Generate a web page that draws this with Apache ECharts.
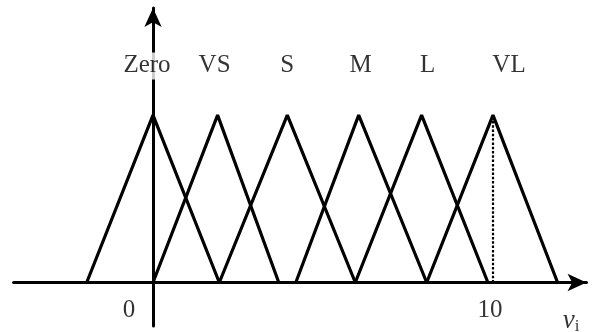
<!DOCTYPE html>
<html>
<head>
<meta charset="utf-8">
<script src="https://cdn.jsdelivr.net/npm/echarts@6/dist/echarts.min.js"></script>
<style>
  html, body { margin: 0; padding: 0; background: #fff; }
  #chart { width: 593px; height: 332px; }
</style>
</head>
<body>
<div id="chart"></div>
<script>
// Fuzzy sets on v_i: each term is a triangle (left foot, peak, right foot)
const termNames = ['Zero', 'VS', 'S', 'M', 'L', 'VL'];
const leftFeet  = [-1.95, 0, 1.95, 4.2, 5.95, 8.05];
const peaks     = [0, 1.9, 3.95, 6.05, 7.9, 10];
const rightFeet = [1.95, 3.7, 5.95, 8.05, 9.85, 11.9];
const peakGrade = 1;

// Labelled values on the horizontal axis
const tickValues = [0, 10];
const tickTexts  = ['0', '10'];
const axisName   = 'v';
const axisSub    = 'i';

const FONT = '"Liberation Serif", "DejaVu Serif", serif';
const INK = '#000';

const chart = echarts.init(document.getElementById('chart'), null, { renderer: 'canvas' });

const triangleSeries = termNames.map((name, i) => ({
  name: name,
  type: 'line',
  data: [[leftFeet[i], 0], [peaks[i], peakGrade], [rightFeet[i], 0]],
  symbol: 'none',
  silent: true,
  lineStyle: { color: INK, width: 3.2 },
  z: 3
}));

// dotted drop line under the last peak
const dropLine = {
  type: 'line',
  data: [[peaks[peaks.length - 1], 0], [peaks[peaks.length - 1], peakGrade]],
  symbol: 'none',
  silent: true,
  lineStyle: { color: INK, width: 2.2, type: [2.5, 1.8] },
  z: 2
};

// label offsets (px) for the term names above the peaks
const termOffsets = [[-6, 1], [-3, 1], [0, 1], [2, 1], [6, 1], [16, 1]];
const termLabels = {
  type: 'scatter',
  symbolSize: 0,
  silent: true,
  z: 5,
  data: termNames.map((name, i) => ({
    value: [peaks[i], 1.3],
    label: {
      show: true,
      formatter: name,
      position: 'inside',
      offset: termOffsets[i],
      fontFamily: FONT,
      fontSize: 25,
      color: INK,
      backgroundColor: i === 0 ? '#fff' : 'transparent',
      padding: [1, 3]
    }
  }))
};

const tickOffsets = [[-24, 0], [-3, 0]];
const tickLabels = {
  type: 'scatter',
  symbolSize: 0,
  silent: true,
  z: 5,
  data: tickValues.map((v, i) => ({
    value: [v, -0.17],
    label: {
      show: true,
      formatter: tickTexts[i],
      position: 'inside',
      offset: tickOffsets[i],
      fontFamily: FONT,
      fontSize: 25,
      color: INK
    }
  }))
};

const nameLabel = {
  type: 'scatter',
  symbolSize: 0,
  silent: true,
  z: 5,
  data: [{
    value: [12.3, -0.23],
    label: {
      show: true,
      position: 'inside',
      formatter: '{v|' + axisName + '}{s|' + axisSub + '}',
      rich: {
        v: { fontFamily: FONT, fontStyle: 'italic', fontSize: 27, color: INK },
        s: { fontFamily: FONT, fontSize: 17, color: INK, padding: [12, 0, 0, 0] }
      }
    }
  }]
};

const axisLineStyle = { color: INK, width: 3 };

chart.setOption({
  animation: false,
  backgroundColor: '#fff',
  grid: { left: 13.6, right: 6.5, top: 8, bottom: 6, containLabel: false },
  xAxis: {
    type: 'value',
    min: -4.1,
    max: 12.75,
    axisLine: {
      show: true, onZero: true,
      symbol: ['none', 'arrow'], symbolSize: [13, 19],
      lineStyle: axisLineStyle
    },
    axisTick: { show: false },
    axisLabel: { show: false },
    splitLine: { show: false }
  },
  yAxis: {
    type: 'value',
    min: -0.26,
    max: 1.64,
    axisLine: {
      show: true, onZero: true,
      symbol: ['none', 'arrow'], symbolSize: [13, 19],
      lineStyle: axisLineStyle
    },
    axisTick: { show: false },
    axisLabel: { show: false },
    splitLine: { show: false }
  },
  series: triangleSeries.concat([dropLine, termLabels, tickLabels, nameLabel])
});
</script>
</body>
</html>
